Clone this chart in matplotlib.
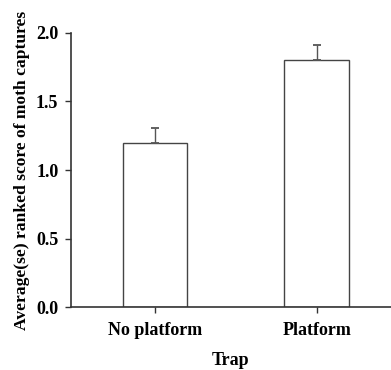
import matplotlib
matplotlib.use("Agg")
import matplotlib.pyplot as plt
import numpy as np

# data
traps = ["No platform", "Platform"]
means = [1.20, 1.80]
se = [0.11, 0.11]
y_ticks = [0.0, 0.5, 1.0, 1.5, 2.0]

plt.rcParams['font.family'] = ['Liberation Serif', 'DejaVu Serif']
plt.rcParams['font.weight'] = 'bold'

fig = plt.figure(figsize=(3.91, 3.70), dpi=100)
ax = fig.add_axes([0.181, 0.170, 0.819, 0.741])

x = np.arange(len(traps))
ax.bar(x, means, width=0.4, color='white', edgecolor='#444444', linewidth=1.0, zorder=2)
ax.errorbar(x, means, yerr=[np.zeros(len(se)), se], fmt='none', ecolor='#555555',
            elinewidth=1.0, capsize=3, capthick=1.3, zorder=3)

ax.set_xlim(-0.52, 1.46)
ax.set_ylim(0, 2.0)
ax.set_yticks(y_ticks)
ax.set_yticklabels([f"{v:.1f}" for v in y_ticks])
ax.set_xticks(x)
ax.set_xticklabels(traps)

for side in ['top', 'right']:
    ax.spines[side].set_visible(False)
for side in ['left', 'bottom']:
    ax.spines[side].set_color('#333333')
    ax.spines[side].set_linewidth(1.2)

ax.tick_params(axis='both', direction='out', length=4, width=1, color='#333333',
               labelsize=13)
ax.tick_params(axis='x', pad=7)
ax.tick_params(axis='y', pad=5)

ax.set_xlabel("Trap", fontsize=13, fontweight='bold', labelpad=9)
ax.set_ylabel("Average(se) ranked score of moth captures", fontsize=12.6,
              fontweight='bold', labelpad=4)

fig.savefig("out.png", dpi=100)
